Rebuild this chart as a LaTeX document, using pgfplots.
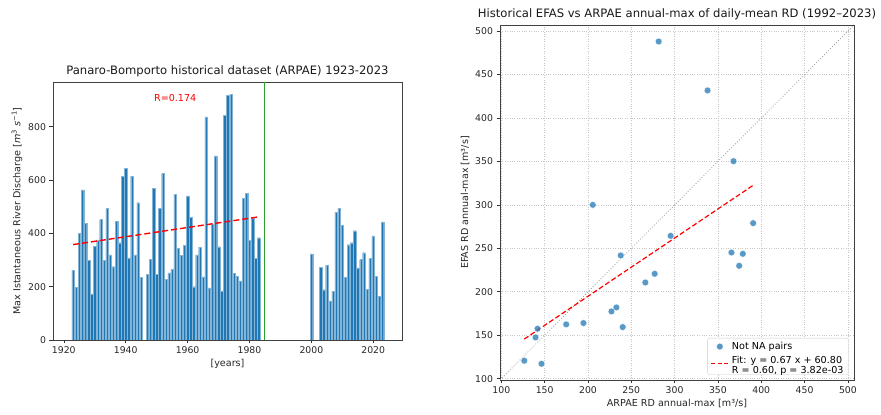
\documentclass[border=0pt]{standalone}
\usepackage{fontspec}
\setmainfont{DejaVu Sans}
\usepackage{pgfplots}
\usepackage{pgfplotstable}
\pgfplotsset{compat=1.18}
\definecolor{tabblue}{HTML}{1F77B4}
\definecolor{tabgreen}{HTML}{2CA02C}
\definecolor{pured}{RGB}{255,0,0}

\pgfplotstableread{
year val
1923 262
1924 198
1925 400
1926 563
1927 437
1928 298
1929 173
1930 352
1931 375
1932 452
1933 300
1934 494
1935 319
1936 275
1937 446
1938 365
1939 615
1940 644
1941 308
1942 615
1943 319
1944 515
1945 235
1947 247
1948 302
1949 569
1950 247
1951 494
1952 625
1953 228
1954 252
1955 265
1956 546
1957 344
1958 318
1959 356
1960 541
1961 460
1962 200
1963 319
1964 348
1965 237
1966 837
1967 196
1968 435
1969 691
1970 350
1971 184
1972 844
1973 919
1974 921
1975 250
1976 240
1977 222
1978 532
1979 550
1980 375
1981 459
1982 306
1983 384
2000 323
2003 272
2004 189
2005 281
2006 147
2007 183
2008 479
2009 494
2010 431
2011 235
2012 358
2013 365
2014 410
2015 271
2016 302
2017 328
2018 191
2019 306
2020 391
2021 240
2022 163
2023 443
}\bars

\pgfplotstableread{
x y
281.6 488.0
338.0 431.7
368.0 350.3
205.6 300.0
390.6 279.0
295.4 264.4
365.6 245.2
378.7 243.7
374.5 229.9
237.8 241.8
277.0 220.7
266.2 210.7
232.8 182.0
227.1 177.4
240.1 159.4
194.8 164.0
174.9 162.5
141.8 157.5
139.5 147.5
126.5 120.7
146.4 117.2
}\pairs

\pgfplotsset{
  common/.style={
    scale only axis,
    anchor=south west,
    tick align=outside,
    tick pos=left,
    major tick length=3.5pt,
    tick style={black!80, line width=0.6pt},
    axis line style={black!75, line width=0.6pt},
    /pgf/number format/assume math mode=true,
    /pgf/number format/1000 sep={},
    ticklabel style={font=\fontsize{9.3}{10}\selectfont, text=black!85},
    label style={font=\fontsize{9.6}{11}\selectfont, text=black!85},
    title style={font=\fontsize{11.6}{13}\selectfont, text=black!90, yshift=-4pt},
  }
}

\begin{document}
\begin{tikzpicture}
\path[use as bounding box] (0pt,0pt) rectangle (881pt,415pt);

\begin{axis}[common,
  at={(53pt,75pt)}, width=349pt, height=258pt,
  xmin=1916.5, xmax=2029.3, ymin=0, ymax=968,
  xtick={1920,1940,...,2020}, ytick={0,200,...,800},
  title={Panaro-Bomporto historical dataset (ARPAE) 1923-2023},
  xlabel={[years]},
  ylabel={Max Istantaneous River Discharge [\textit{m}\textsuperscript{3} \textit{s}\textsuperscript{−1}]},
  xlabel style={yshift=2pt},
  ylabel style={yshift=-1pt},
]
\addplot[ybar, bar width=0.8, bar shift=0pt, fill=tabblue, draw=tabblue!55!white, line width=0.15pt] table[x=year,y=val]{\bars};
\addplot[color=pured, line width=1.4pt, dash pattern=on 6pt off 3pt] coordinates {(1923,358) (1983,462)};
\addplot[tabgreen, line width=1.1pt] coordinates {(1985,0) (1985,968)};
\node[text=pured, font=\fontsize{9.6}{10}\selectfont] at (axis cs:1956,909) {R=0.174};
\end{axis}

\begin{axis}[common,
  at={(500pt,35pt)}, width=354pt, height=355pt,
  xmin=98.5, xmax=507, ymin=98.5, ymax=507,
  xtick={100,150,...,500}, ytick={100,150,...,500},
  grid=major, grid style={dotted, gray!45, line width=0.6pt},
  title={Historical EFAS vs ARPAE annual-max of daily-mean RD (1992–2023)},
  xlabel={ARPAE RD annual-max [m³/s]},
  ylabel={EFAS RD annual-max [m³/s]},
  xlabel style={yshift=2pt},
  ylabel style={yshift=-1pt},
  legend cell align=left,
  legend style={at={(0.985,0.015)}, anchor=south east, draw=black!20,
    rounded corners=2pt, font=\fontsize{9.6}{11}\selectfont,
    inner xsep=3pt, inner ysep=2pt, row sep=1pt},
]
\addplot[gray!85, dotted, line width=0.8pt, forget plot] coordinates {(98.5,98.5) (507,507)};
\addplot[only marks, mark=*, mark size=3.4pt,
  mark options={fill=tabblue, fill opacity=0.75, draw=white, draw opacity=0.9, line width=0.4pt}]
  table[x=x,y=y]{\pairs};
\addlegendentry{Not NA pairs}
\addplot[color=pured, line width=1.2pt, dash pattern=on 5pt off 2.5pt,
  legend image code/.code={\draw[pured, solid, line width=1.4pt, dash pattern=on 4pt off 2.5pt] (0pt,0pt) -- (18pt,0pt);}]
  coordinates {(126.5,145.6) (390.6,322.5)};
\addlegendentry{\begin{tabular}{@{}l@{}}Fit: y = 0.67 x + 60.80\\[-1pt]R = 0.60, p = 3.82e-03\end{tabular}}
\end{axis}
\end{tikzpicture}
\end{document}
